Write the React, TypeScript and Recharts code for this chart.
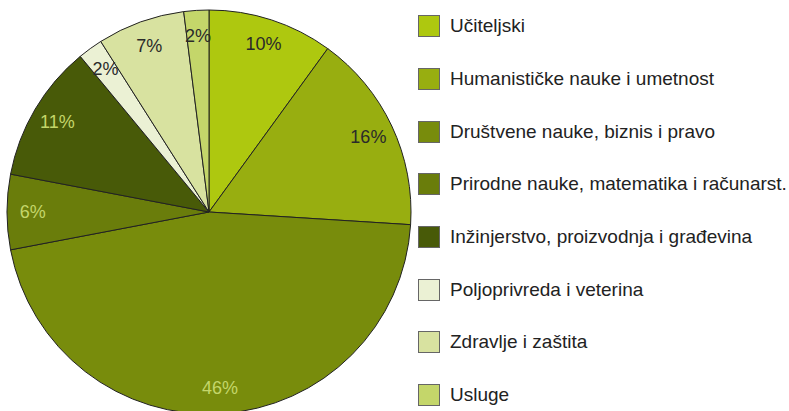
import React from 'react';
import { PieChart, Pie, Cell, Legend } from 'recharts';

const categories = [
  'Učiteljski',
  'Humanističke nauke i umetnost',
  'Društvene nauke, biznis i pravo',
  'Prirodne nauke, matematika i računarst.',
  'Inžinjerstvo, proizvodnja i građevina',
  'Poljoprivreda i veterina',
  'Zdravlje i zaštita',
  'Usluge',
];
const shares = [10, 16, 46, 6, 11, 2, 7, 2];
const colors = ['#aec80f', '#98ae10', '#788c0c', '#6a7d0b', '#485a08', '#ebf1d4', '#d8e2a0', '#c4d66a'];
const labelColors = ['#2a2a2a', '#2a2a2a', '#c4d66a', '#c4d66a', '#c4d66a', '#2a2a2a', '#2a2a2a', '#2a2a2a'];

const data = categories.map((name, i) => ({ name, value: shares[i] }));

const RAD = Math.PI / 180;
const FONT = '"Liberation Sans", Arial, Helvetica, sans-serif';

const renderLabel = (props: any) => {
  const { cx, cy, midAngle, outerRadius, index, value } = props;
  const r = outerRadius * 0.872;
  const x = cx + r * Math.cos(-midAngle * RAD);
  const y = cy + r * Math.sin(-midAngle * RAD);
  return (
    <text
      x={x}
      y={y}
      fill={labelColors[index]}
      textAnchor="middle"
      dominantBaseline="central"
      fontSize={18}
      fontFamily={FONT}
    >
      {value}%
    </text>
  );
};

const renderLegend = () => {
  return (
    <div style={{ fontFamily: FONT }}>
      {categories.map((name, i) => (
        <div
          key={name}
          style={{ display: 'flex', alignItems: 'center', height: 52.7 }}
        >
          <div
            style={{
              width: 20,
              height: 20,
              background: colors[i],
              border: '1.5px solid #666',
              marginRight: 10,
              flexShrink: 0,
            }}
          />
          <span style={{ fontSize: 19, color: '#222', whiteSpace: 'nowrap' }}>{name}</span>
        </div>
      ))}
    </div>
  );
};

export default function App() {
  return (
    <div style={{ position: 'absolute', left: 0, top: 0, width: 789, height: 411, background: '#fff' }}>
      <PieChart width={789} height={411} margin={{ top: 0, left: 0, right: 0, bottom: 0 }}>
        <Pie
          data={data}
          dataKey="value"
          nameKey="name"
          cx={209}
          cy={212}
          outerRadius={202}
          startAngle={90}
          endAngle={-270}
          stroke="#222"
          strokeWidth={1}
          label={renderLabel}
          labelLine={false}
          isAnimationActive={false}
        >
          {data.map((d, i) => (
            <Cell key={d.name} fill={colors[i]} />
          ))}
        </Pie>
        <Legend
          layout="vertical"
          align="right"
          verticalAlign="top"
          content={renderLegend}
          wrapperStyle={{ left: 418, top: 0, width: 371 }}
        />
      </PieChart>
    </div>
  );
}
